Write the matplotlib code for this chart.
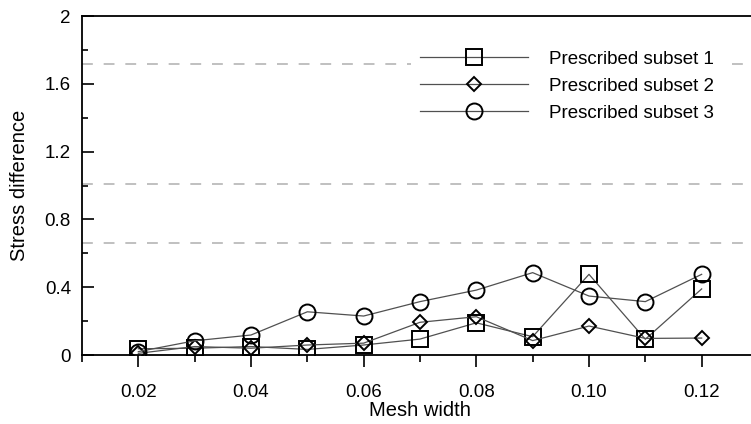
import matplotlib.pyplot as plt
from matplotlib.ticker import MultipleLocator

plt.rcParams['font.family'] = ['Liberation Sans', 'DejaVu Sans']

# Data
mesh_width = [0.02, 0.03, 0.04, 0.05, 0.06, 0.07, 0.08, 0.09, 0.10, 0.11, 0.12]
subset_1 = [0.037, 0.04, 0.05, 0.033, 0.059, 0.094, 0.19, 0.108, 0.476, 0.093, 0.39]
subset_2 = [0.01, 0.05, 0.04, 0.059, 0.07, 0.193, 0.226, 0.085, 0.171, 0.098, 0.10]
subset_3 = [0.02, 0.084, 0.118, 0.255, 0.23, 0.315, 0.383, 0.486, 0.348, 0.315, 0.476]
ref_levels = [0.66, 1.01, 1.717]

x_ticks = [0.02, 0.04, 0.06, 0.08, 0.10, 0.12]
x_ticklabels = ['0.02', '0.04', '0.06', '0.08', '0.10', '0.12']
y_ticks = [0, 0.4, 0.8, 1.2, 1.6, 2]
y_ticklabels = ['0', '0.4', '0.8', '1.2', '1.6', '2']

fig = plt.figure(figsize=(7.51, 4.24), dpi=100)
ax = fig.add_axes([0.1092, 0.1627, 0.9001, 0.7995])

# horizontal reference levels
for lvl in ref_levels:
    ax.axhline(lvl, color='#bbbbbb', lw=1.3, dashes=(6, 6), zorder=1)

line_kw = dict(color='#505050', lw=0.9, mfc='none', mec='black', mew=1.4, zorder=3)
ax.plot(mesh_width, subset_1, marker='s', ms=11.5, label='Prescribed subset 1', **line_kw)
ax.plot(mesh_width, subset_2, marker='D', ms=7.5, label='Prescribed subset 2', **line_kw)
ax.plot(mesh_width, subset_3, marker='o', ms=11.5, label='Prescribed subset 3', **line_kw)

ax.set_xlim(0.01, 0.13)
ax.set_ylim(0, 2)
ax.set_xticks(x_ticks)
ax.set_xticklabels(x_ticklabels)
ax.set_yticks(y_ticks)
ax.set_yticklabels(y_ticklabels)
ax.xaxis.set_minor_locator(MultipleLocator(0.01))
ax.yaxis.set_minor_locator(MultipleLocator(0.2))

ax.tick_params(axis='x', which='major', direction='out', length=8.5, width=1.2, pad=12.5, labelsize=13.5)
ax.tick_params(axis='x', which='minor', direction='out', length=5, width=1.2)
ax.tick_params(axis='y', which='major', direction='in', length=8.5, width=1.2, pad=8, labelsize=13.5)
ax.tick_params(axis='y', which='minor', direction='in', length=4.5, width=1.2)

for side in ['left', 'bottom', 'top']:
    ax.spines[side].set_linewidth(1.3)
ax.spines['right'].set_visible(False)

ax.set_xlabel('Mesh width', fontsize=14.5, labelpad=0)
ax.set_ylabel('Stress difference', fontsize=14.5, labelpad=11)

leg = ax.legend(loc='upper left', bbox_to_anchor=(0.473, 0.95), fontsize=13.5,
                frameon=True, fancybox=False, edgecolor='none', facecolor='white',
                framealpha=1, handlelength=5.8, handletextpad=1.1, labelspacing=0.52,
                borderpad=0.45)

fig.savefig('out.png', dpi=100)
